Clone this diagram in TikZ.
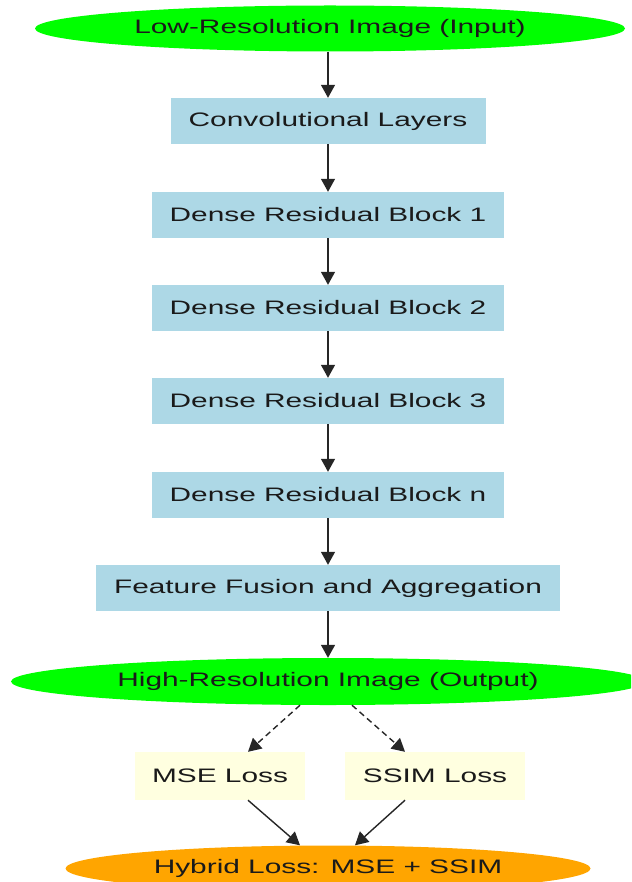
\documentclass[tikz,border=0pt]{standalone}
\usepackage{fontspec}
\setmainfont{Liberation Sans}[FakeStretch=1.53]
\usetikzlibrary{shapes.geometric,arrows.meta,calc}
\definecolor{gvgreen}{HTML}{00FF00}
\definecolor{gvblue}{HTML}{ADD8E6}
\definecolor{gvyellow}{HTML}{FFFFE0}
\definecolor{gvorange}{HTML}{FFA500}
\definecolor{txt}{HTML}{1A1A1A}
\begin{document}
\begin{tikzpicture}[x=1pt,y=-1pt,
  every node/.style={font=\fontsize{19.5}{22}\selectfont, text=txt, inner sep=0pt},
  ell/.style={ellipse, minimum height=46pt},
  blk/.style={rectangle, fill=gvblue, minimum height=46pt},
  loss/.style={rectangle, fill=gvyellow, minimum height=48pt},
  edge/.style={line width=1.4pt, draw=black!85, -{Triangle[length=13pt,width=14pt]}},
  dedge/.style={edge, dash pattern=on 6pt off 4pt}
]
\useasboundingbox (0,0) rectangle (631,882);
\clip (0,0) rectangle (631,882);
\node[ell, fill=gvgreen, minimum width=590pt] (lr) at (330,28.5) {Low-Resolution Image (Input)};
\node[blk, minimum width=315pt] (conv) at (328,121) {Convolutional Layers};
\node[blk, minimum width=352pt] (d1) at (328,215) {Dense Residual Block 1};
\node[blk, minimum width=352pt] (d2) at (328,308) {Dense Residual Block 2};
\node[blk, minimum width=352pt] (d3) at (328,401) {Dense Residual Block 3};
\node[blk, minimum width=352pt] (dn) at (328,495) {Dense Residual Block n};
\node[blk, minimum width=464pt] (ff) at (328,588) {Feature Fusion and Aggregation};
\node[ell, fill=gvgreen, minimum width=634pt, minimum height=47pt] (hr) at (328,681.5) {High-Resolution Image (Output)};
\node[loss, minimum width=170pt] (mse) at (220,776) {MSE Loss};
\node[loss, minimum width=180pt] (ssim) at (435,776) {SSIM Loss};
\node[ell, fill=gvorange, minimum width=525pt] (hyb) at (328,868.5) {Hybrid Loss: MSE + SSIM};
\draw[edge] (lr.south -| conv.north) -- (conv);
\draw[edge] (conv) -- (d1);
\draw[edge] (d1) -- (d2);
\draw[edge] (d2) -- (d3);
\draw[edge] (d3) -- (dn);
\draw[edge] (dn) -- (ff);
\draw[edge] (ff) -- (hr);
\draw[dedge] ($(hr.south)+(-28,0)$) -- ($(mse.north)+(28,0)$);
\draw[dedge] ($(hr.south)+(24,0)$) -- ($(ssim.north)+(-30,0)$);
\draw[edge] ($(mse.south)+(28,0)$) -- ($(hyb.north)+(-28,0)$);
\draw[edge] ($(ssim.south)+(-30,0)$) -- ($(hyb.north)+(27,0)$);
\end{tikzpicture}
\end{document}
